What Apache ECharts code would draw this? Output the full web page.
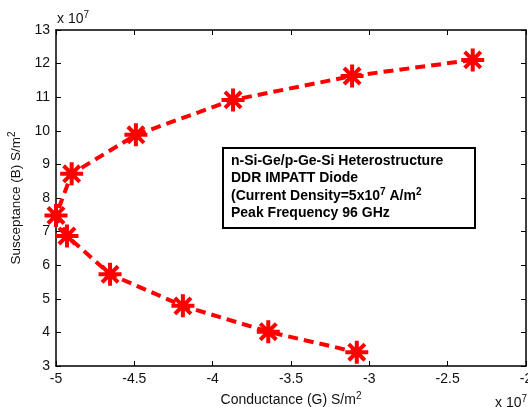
<!DOCTYPE html>
<html>
<head>
<meta charset="utf-8">
<script src="https://cdn.jsdelivr.net/npm/echarts@6/dist/echarts.min.js"></script>
<style>
html,body{margin:0;padding:0;background:#fff;}
#chart{width:528px;height:407px;}
</style>
</head>
<body>
<div id="chart"></div>
<script>
// Values in units of 1e7
var conductance = [-2.34, -3.11, -3.87, -4.49, -4.90, -5.00, -4.93, -4.655, -4.19, -3.645, -3.08];
var susceptance = [12.11, 11.63, 10.92, 9.88, 8.72, 7.48, 6.87, 5.73, 4.79, 4.02, 3.41];
var xTicks = { min: -5, max: -2, step: 0.5 };
var yTicks = { min: 3, max: 13, step: 1 };
var annotation = [
  'n-Si-Ge/p-Ge-Si Heterostructure',
  'DDR IMPATT Diode',
  '(Current Density=5x10{sup|7} A/m{sup|2}',
  'Peak Frequency 96 GHz'
];

var FONT = '"Liberation Sans", Arial, sans-serif';
var points = conductance.map(function (g, i) { return [g, susceptance[i]]; });

var chart = echarts.init(document.getElementById('chart'), null, { renderer: 'canvas' });

var axisLine = { show: true, lineStyle: { color: '#000', width: 1.5 } };
var tick = { show: true, inside: true, length: 5, lineStyle: { color: '#000', width: 1 } };
var lbl = { color: '#111', fontFamily: FONT, fontSize: 14 };
var supRich = { sup: { fontSize: 10, verticalAlign: 'top', padding: [0, 0, 8, 0], fontFamily: FONT, color: '#111' } };

var option = {
  animation: false,
  backgroundColor: '#fff',
  grid: { left: 56, top: 30, right: 2, bottom: 41, containLabel: false, outerBoundsMode: 'none' },
  xAxis: [{
    type: 'value', min: xTicks.min, max: xTicks.max, interval: xTicks.step,
    position: 'bottom',
    axisLine: axisLine, axisTick: tick, splitLine: { show: false },
    axisLabel: Object.assign({ margin: 6 }, lbl),
    name: 'Conductance (G) S/m{sup|2}', nameLocation: 'middle', nameGap: 25,
    nameTextStyle: { color: '#111', fontFamily: FONT, fontSize: 14, rich: supRich }
  }, {
    type: 'value', min: xTicks.min, max: xTicks.max, interval: xTicks.step,
    position: 'top',
    axisLine: axisLine, axisTick: tick, splitLine: { show: false },
    axisLabel: { show: false }
  }],
  yAxis: [{
    type: 'value', min: yTicks.min, max: yTicks.max, interval: yTicks.step,
    position: 'left',
    axisLine: axisLine, axisTick: tick, splitLine: { show: false },
    axisLabel: Object.assign({ margin: 6 }, lbl),
    name: 'Susceptance (B) S/m{sup|2}', nameLocation: 'middle', nameGap: 29,
    nameRotate: 90,
    nameTextStyle: { color: '#111', fontFamily: FONT, fontSize: 13.5, rich: supRich }
  }, {
    type: 'value', min: yTicks.min, max: yTicks.max, interval: yTicks.step,
    position: 'right',
    axisLine: axisLine, axisTick: tick, splitLine: { show: false },
    axisLabel: { show: false }
  }],
  series: [{
    type: 'line',
    data: points,
    xAxisIndex: 0, yAxisIndex: 0,
    lineStyle: { color: '#ff0000', width: 4, type: [10, 6] },
    symbol: 'path://M0,10 L20,10 M10,0 L10,20 M3,3 L17,17 M3,17 L17,3',
    symbolSize: 23,
    itemStyle: { color: '#ff0000', borderColor: '#ff0000', borderWidth: 4 },
    z: 3
  }],
  graphic: [
    {
      type: 'text', left: 57, top: 10,
      style: { text: 'x 10{sup|7}', fill: '#111', font: '14px ' + FONT,
        rich: { sup: { fontSize: 10, verticalAlign: 'top', padding: [0, 0, 8, 0], fontFamily: FONT } } }
    },
    {
      type: 'text', left: 495, top: 394,
      style: { text: 'x 10{sup|7}', fill: '#111', font: '14px ' + FONT,
        rich: { sup: { fontSize: 10, verticalAlign: 'top', padding: [0, 0, 8, 0], fontFamily: FONT } } }
    },
    {
      type: 'rect', left: 222, top: 147, z: 10,
      shape: { width: 252, height: 80 },
      style: { fill: '#fff', stroke: '#000', lineWidth: 2 }
    },
    {
      type: 'text', left: 231, top: 152, z: 11,
      style: {
        text: annotation.join('\n'),
        fill: '#000',
        font: 'bold 14px ' + FONT,
        lineHeight: 17.5,
        rich: { sup: { fontSize: 10, fontWeight: 'bold', verticalAlign: 'top', padding: [0, 0, 8, 0], fontFamily: FONT } }
      }
    }
  ]
};
chart.setOption(option);
</script>
</body>
</html>
